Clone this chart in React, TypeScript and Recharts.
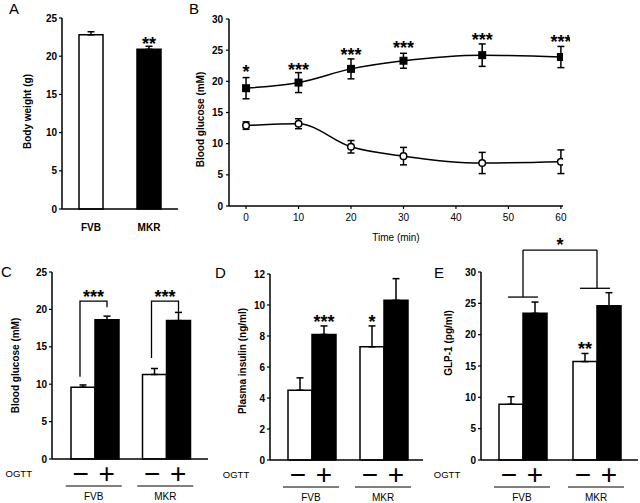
import React from 'react';
import {
  BarChart, Bar, LineChart, Line, XAxis, YAxis, ErrorBar, Cell, LabelList, ReferenceLine,
} from 'recharts';

const FONT = '"Liberation Sans", Arial, Helvetica, sans-serif';

// ---------- Panel A : body weight ----------
const aGroups = ['FVB', 'MKR'];
const aWeight = [22.8, 20.9];
const aWeightErr = [0.4, 0.4];
const aStars = ['', '**'];
const aFills = ['#ffffff', '#000000'];

// ---------- Panel B : OGTT time course ----------
const bTimes = [0, 10, 20, 30, 45, 60];
const bFVB = [12.9, 13.2, 9.5, 8.0, 6.9, 7.1];
const bFVBErr = [0.6, 0.8, 1.0, 1.4, 1.7, 1.9];
const bMKR = [18.9, 19.8, 22.0, 23.3, 24.2, 23.9];
const bMKRErr = [1.7, 1.6, 1.6, 1.2, 1.8, 1.7];
const bStars = ['*', '***', '***', '***', '***', '***'];
const bXTicks = [0, 10, 20, 30, 40, 50, 60];
const bYTicks = [0, 5, 10, 15, 20, 25, 30];

// ---------- Shared groups for C, D, E ----------
const groups = ['FVB', 'MKR'];

// ---------- Panel C : blood glucose ----------
const cNeg = [9.6, 11.3];
const cNegErr = [0.3, 0.8];
const cPos = [18.6, 18.5];
const cPosErr = [0.5, 1.1];
const cBracketStart = [11.0, 13.5];
const cBracketTop = [21.1, 21.1];
const cBracketEnd = [20.3, 19.7];
const cBracketStars = ['***', '***'];
const cYTicks = [0, 5, 10, 15, 20, 25];

// ---------- Panel D : plasma insulin ----------
const dNeg = [4.5, 7.3];
const dNegErr = [0.8, 1.35];
const dPos = [8.1, 10.3];
const dPosErr = [0.55, 1.4];
const dNegStars = ['', '*'];
const dPosStars = ['***', ''];
const dYTicks = [0, 2, 4, 6, 8, 10, 12];

// ---------- Panel E : GLP-1 ----------
const eNeg = [8.9, 15.7];
const eNegErr = [1.2, 1.3];
const ePos = [23.4, 24.6];
const ePosErr = [1.8, 2.1];
const eNegStars = ['', '**'];
const ePosStars = ['', ''];
const eGroupLine = [26.0, 27.4];
const eBracketTop = 33.5;
const eBracketStar = '*';
const eYTicks = [0, 5, 10, 15, 20, 25, 30];

// ---------- data tables ----------
const aData = aGroups.map((name, i) => ({ name, value: aWeight[i], err: [0, aWeightErr[i]] }));
const bData = bTimes.map((t, i) => ({
  t, fvb: bFVB[i], fvbErr: bFVBErr[i], mkr: bMKR[i], mkrErr: bMKRErr[i], starY: bMKR[i] + bMKRErr[i],
}));
const mkGroupData = (neg: number[], negErr: number[], pos: number[], posErr: number[]) =>
  groups.map((group, i) => ({ group, neg: neg[i], negErr: [0, negErr[i]], pos: pos[i], posErr: [0, posErr[i]] }));
const cData = mkGroupData(cNeg, cNegErr, cPos, cPosErr);
const dData = mkGroupData(dNeg, dNegErr, dPos, dPosErr);
const eData = mkGroupData(eNeg, eNegErr, ePos, ePosErr);

// ---------- styles ----------
const axisLine = { stroke: '#000', strokeWidth: 1.5 };
const tickLine = { stroke: '#000', strokeWidth: 1.2 };
const boldTick = { fontSize: 10, fontWeight: 'bold', fill: '#000', fontFamily: FONT };
const plainTick = { fontSize: 10, fill: '#000', fontFamily: FONT };

const STAR_FS = 18;
const STAR_SHIFT = 8; // baseline offset relative to desired glyph centre

// geometry of a bar label
const barGeom = (p: any) => {
  const vb = p.viewBox && p.viewBox.width != null ? p.viewBox : p;
  return { x: Number(vb.x), y: Number(vb.y), w: Number(vb.width), h: Number(vb.height) };
};

const starLabel = (values: number[], errs: number[], stars: string[], gap = 6) => (p: any) => {
  const i = p.index;
  const s = stars[i];
  if (!s) return null;
  const { x, y, w, h } = barGeom(p);
  const k = values[i] ? h / values[i] : 0;
  const top = y - errs[i] * k;
  const cy = top - gap;
  return (
    <text key={`s${i}`} x={x + w / 2} y={cy + STAR_SHIFT} textAnchor="middle" fontSize={STAR_FS}
      fontWeight="bold" fontFamily={FONT} fill="#000">{s}</text>
  );
};

const bracketLabel = (values: number[]) => (p: any) => {
  const i = p.index;
  const { x, y, w, h } = barGeom(p);
  const k = values[i] ? h / values[i] : 0;
  const base = y + h;
  const Y = (v: number) => base - v * k;
  const x1 = x + w / 2 - 3;
  const x2 = x + w * 1.5;
  const d = `M${x1},${Y(cBracketStart[i])} V${Y(cBracketTop[i])} H${x2} V${Y(cBracketEnd[i])}`;
  return (
    <g key={`b${i}`}>
      <path d={d} fill="none" stroke="#000" strokeWidth={1.3} />
      <text x={(x1 + x2) / 2} y={Y(cBracketTop[i]) - 6 + STAR_SHIFT} textAnchor="middle" fontSize={STAR_FS}
        fontWeight="bold" fontFamily={FONT} fill="#000">{cBracketStars[i]}</text>
    </g>
  );
};

const groupLineLabel = (values: number[]) => (p: any) => {
  const i = p.index;
  const { x, y, w, h } = barGeom(p);
  const k = values[i] ? h / values[i] : 0;
  const base = y + h;
  const yy = base - eGroupLine[i] * k;
  const cx = x + w - (i === 1 ? 2 : 0);
  return <line key={`g${i}`} x1={cx - 15} x2={cx + 15} y1={yy} y2={yy} stroke="#000" strokeWidth={1.3} />;
};

const yTitle = (text: string, cx: number, dy = 0) => ({
  value: text,
  content: (p: any) => {
    const vb = p.viewBox || { y: 0, height: 0 };
    const cy = vb.y + vb.height / 2 + dy;
    return (
      <text x={cx} y={cy} transform={`rotate(-90 ${cx} ${cy})`} textAnchor="middle" dominantBaseline="central"
        fontSize={10} fontWeight="bold" fontFamily={FONT} fill="#000">{text}</text>
    );
  },
});

const GroupTick = (p: any) => {
  const { x, y, payload, index, bw } = p;
  return (
    <g>
      <text x={x - bw / 2 - 2} y={y + 14} textAnchor="middle" dominantBaseline="central" fontSize={28}
        fontFamily={FONT} fill="#000">−</text>
      <text x={x + bw / 2} y={y + 14} textAnchor="middle" dominantBaseline="central" fontSize={28}
        fontFamily={FONT} fill="#000">+</text>
      <line x1={x - 29} x2={x + 27} y1={y + 27} y2={y + 27} stroke="#000" strokeWidth={1.2} />
      <text x={x - 1} y={y + 37} textAnchor="middle" dominantBaseline="central" fontSize={10}
        fontFamily={FONT} fill="#000">{payload.value}</text>
      {index === 0 ? (
        <text x={x - 76} y={y + 14} textAnchor="middle" dominantBaseline="central" fontSize={9.5}
          fontFamily={FONT} fill="#000">OGTT</text>
      ) : null}
    </g>
  );
};

const SquareDot = (p: any) => (
  <rect key={`sq${p.index}`} x={p.cx - 4} y={p.cy - 4} width={8} height={8} fill="#000" />
);
const CircleDot = (p: any) => (
  <circle key={`ci${p.index}`} cx={p.cx} cy={p.cy} r={3.3} fill="#fff" stroke="#000" strokeWidth={1.5} />
);

const bStarGap = [8, 5, 6, 7, 6, 6];
const bStarLabel = (p: any) => {
  const i = p.index;
  const s = bStars[i];
  if (!s || p.x == null) return null;
  return (
    <text key={`bs${i}`} x={p.x} y={p.y - bStarGap[i] + STAR_SHIFT} textAnchor="middle" fontSize={STAR_FS} fontWeight="bold"
      fontFamily={FONT} fill="#000">{s}</text>
  );
};

const BAR = 24;

function GroupPanel(props: {
  data: any[]; width: number; height: number; margin: any; yWidth: number; xHeight: number;
  ticks: number[]; padding: { left: number; right: number }; title: string; titleX: number; titleDy: number;
  negVals: number[]; negErrs: number[]; posVals: number[]; posErrs: number[];
  negStars?: string[]; posStars?: string[]; bracketC?: boolean; bracketE?: boolean;
}) {
  const p = props;
  return (
    <BarChart width={p.width} height={p.height} data={p.data} margin={p.margin} barGap={0} barCategoryGap={0}>
      <XAxis dataKey="group" height={p.xHeight} padding={p.padding} tickLine={false} tickSize={0} tickMargin={0}
        axisLine={axisLine} interval={0} tick={(tp: any) => <GroupTick {...tp} bw={BAR} />} />
      <YAxis width={p.yWidth} domain={[p.ticks[0], p.ticks[p.ticks.length - 1]]} ticks={p.ticks} interval={0}
        axisLine={axisLine} tickLine={tickLine} tickSize={3} tickMargin={2} tick={boldTick}
        label={yTitle(p.title, p.titleX, p.titleDy)} />
      <Bar dataKey="neg" barSize={BAR} fill="#fff" stroke="#000" strokeWidth={1.5} isAnimationActive={false}>
        <ErrorBar dataKey="negErr" direction="y" width={3.5} stroke="#000" strokeWidth={1.5} isAnimationActive={false} />
        {p.negStars ? <LabelList dataKey="neg" content={starLabel(p.negVals, p.negErrs, p.negStars, 6)} /> : null}
        {p.bracketC ? <LabelList dataKey="neg" content={bracketLabel(p.negVals)} /> : null}
        {p.bracketE ? <LabelList dataKey="neg" content={groupLineLabel(p.negVals)} /> : null}
      </Bar>
      <Bar dataKey="pos" barSize={BAR} fill="#000" stroke="#000" strokeWidth={1.5} isAnimationActive={false}>
        <ErrorBar dataKey="posErr" direction="y" width={3.5} stroke="#000" strokeWidth={1.5} isAnimationActive={false} />
        {p.posStars ? <LabelList dataKey="pos" content={starLabel(p.posVals, p.posErrs, p.posStars, 6)} /> : null}
      </Bar>
      {p.bracketE ? (
        <ReferenceLine segment={[{ x: groups[0], y: eGroupLine[0] }, { x: groups[0], y: eBracketTop }]}
          stroke="#000" strokeWidth={1.3} ifOverflow="visible" />
      ) : null}
      {p.bracketE ? (
        <ReferenceLine segment={[{ x: groups[1], y: eGroupLine[1] }, { x: groups[1], y: eBracketTop }]}
          stroke="#000" strokeWidth={1.3} ifOverflow="visible" />
      ) : null}
      {p.bracketE ? (
        <ReferenceLine segment={[{ x: groups[0], y: eBracketTop }, { x: groups[1], y: eBracketTop }]}
          stroke="#000" strokeWidth={1.3} ifOverflow="visible"
          label={{
            value: eBracketStar,
            content: (lp: any) => {
              const vb = lp.viewBox || {};
              const cx = Number(vb.x) + Number(vb.width || 0) / 2;
              const cy = Number(vb.y);
              return (
                <text x={cx} y={cy - 7 + STAR_SHIFT} textAnchor="middle" fontSize={STAR_FS} fontWeight="bold"
                  fontFamily={FONT} fill="#000">{eBracketStar}</text>
              );
            },
          }} />
      ) : null}
    </BarChart>
  );
}

export default function App() {
  return (
    <div style={{ position: 'absolute', left: 0, top: 0, width: 640, height: 503, background: '#fff', fontFamily: FONT, overflow: 'hidden' }}>
      {/* Panel A */}
      <div style={{ position: 'absolute', left: 0, top: 0 }}>
        <BarChart width={185} height={250} data={aData} margin={{ top: 18, right: 7, left: 0, bottom: 11 }}>
          <XAxis dataKey="name" height={30} tickLine={false} tickSize={0} tickMargin={15} axisLine={axisLine}
            tick={boldTick} interval={0} />
          <YAxis width={62} domain={[0, 25]} ticks={[0, 5, 10, 15, 20, 25]} interval={0} axisLine={axisLine}
            tickLine={tickLine} tickSize={3} tickMargin={2} tick={boldTick}
            label={yTitle('Body weight (g)', 27, -2)} />
          <Bar dataKey="value" barSize={24} stroke="#000" strokeWidth={1.5} isAnimationActive={false}>
            {aData.map((d, i) => <Cell key={d.name} fill={aFills[i]} />)}
            <ErrorBar dataKey="err" direction="y" width={3.5} stroke="#000" strokeWidth={1.5} isAnimationActive={false} />
            <LabelList dataKey="value" content={starLabel(aWeight, aWeightErr, aStars, 4)} />
          </Bar>
        </BarChart>
      </div>

      {/* Panel B */}
      <div style={{ position: 'absolute', left: 170, top: 0 }}>
        <LineChart width={400} height={250} data={bData} margin={{ top: 19, right: 7, left: 0, bottom: 6 }}>
          <XAxis dataKey="t" type="number" domain={[-3.25, 60.4]} allowDataOverflow ticks={bXTicks} interval={0}
            height={38} axisLine={axisLine} tickLine={tickLine} tickSize={3} tickMargin={5} tick={plainTick}
            label={{ value: 'Time (min)', position: 'insideBottom', offset: 3, fontSize: 10, fill: '#000', fontFamily: FONT }} />
          <YAxis width={59} domain={[0, 30]} ticks={bYTicks} interval={0} axisLine={axisLine} tickLine={tickLine}
            tickSize={3} tickMargin={3} tick={boldTick} label={yTitle('Blood glucose (mM)', 30, 7)} />
          <Line dataKey="fvb" type="monotone" stroke="#000" strokeWidth={1.5} dot={CircleDot} activeDot={false}
            isAnimationActive={false}>
            <ErrorBar dataKey="fvbErr" direction="y" width={3.5} stroke="#000" strokeWidth={1.5} isAnimationActive={false} />
          </Line>
          <Line dataKey="mkr" type="monotone" stroke="#000" strokeWidth={1.5} dot={SquareDot} activeDot={false}
            isAnimationActive={false}>
            <ErrorBar dataKey="mkrErr" direction="y" width={3.5} stroke="#000" strokeWidth={1.5} isAnimationActive={false} />
          </Line>
          <Line dataKey="starY" stroke="none" dot={false} activeDot={false} isAnimationActive={false}>
            <LabelList dataKey="starY" content={bStarLabel} />
          </Line>
        </LineChart>
      </div>

      {/* Panel C */}
      <div style={{ position: 'absolute', left: 0, top: 250 }}>
        <GroupPanel data={cData} width={215} height={253} margin={{ top: 22, right: 7, left: 0, bottom: 0 }}
          yWidth={52} xHeight={44} ticks={cYTicks} padding={{ left: 7, right: 6 }}
          title="Blood glucose (mM)" titleX={15} titleDy={0}
          negVals={cNeg} negErrs={cNegErr} posVals={cPos} posErrs={cPosErr} bracketC />
      </div>

      {/* Panel D */}
      <div style={{ position: 'absolute', left: 210, top: 250 }}>
        <GroupPanel data={dData} width={215} height={253} margin={{ top: 24, right: 2, left: 0, bottom: 0 }}
          yWidth={60} xHeight={43} ticks={dYTicks} padding={{ left: 6, right: 3 }}
          title="Plasma insulin (ng/ml)" titleX={32} titleDy={-6}
          negVals={dNeg} negErrs={dNegErr} posVals={dPos} posErrs={dPosErr}
          negStars={dNegStars} posStars={dPosStars} />
      </div>

      {/* Panel E */}
      <div style={{ position: 'absolute', left: 420, top: 230 }}>
        <GroupPanel data={eData} width={220} height={273} margin={{ top: 42, right: 2, left: 0, bottom: 0 }}
          yWidth={61} xHeight={43} ticks={eYTicks} padding={{ left: 5, right: 4 }}
          title="GLP-1 (pg/ml)" titleX={28} titleDy={-23}
          negVals={eNeg} negErrs={eNegErr} posVals={ePos} posErrs={ePosErr}
          negStars={eNegStars} posStars={ePosStars} bracketE />
      </div>

      {/* Panel letters */}
      <svg width={640} height={503} style={{ position: 'absolute', left: 0, top: 0, pointerEvents: 'none' }}>
        <g fontFamily={FONT} fontSize={15} fill="#000">
          <text x={9} y={14}>A</text>
          <text x={189} y={14}>B</text>
          <text x={1} y={277}>C</text>
          <text x={215} y={278}>D</text>
          <text x={434} y={278}>E</text>
        </g>
      </svg>
    </div>
  );
}
